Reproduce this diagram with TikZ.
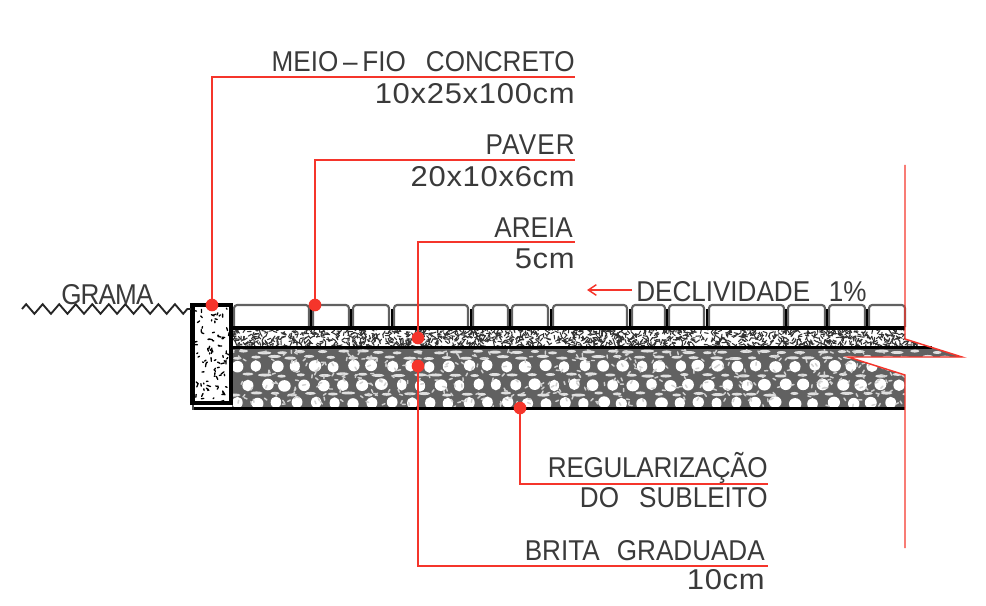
\documentclass[tikz,border=0pt]{standalone}
\usepackage{fontspec}
\setmainfont{Liberation Sans}[FakeStretch=0.91]
\newfontfamily\digitfont{Liberation Sans}[FakeStretch=1.08,LetterSpace=2.5]
\usetikzlibrary{decorations.pathmorphing,arrows.meta}
\definecolor{cadred}{HTML}{F5352B}
\definecolor{cadtext}{HTML}{3A3A3A}
\tikzset{
  cadlabel/.style={inner sep=0pt,text=cadtext,font=\fontsize{21.5pt}{24pt}\selectfont},
  rlabel/.style={cadlabel,anchor=base east},
  llabel/.style={cadlabel,anchor=base west},
  leader/.style={draw=cadred,line width=1.35pt},
  reddot/.style={circle,fill=cadred,inner sep=0pt,minimum size=9.5pt},
  paverbox/.style={draw=black!62,line width=1.6pt,rounded corners=2.4pt},
  joint/.style={draw=black,line width=1.7pt},
  layerline/.style={draw=black,line width=2.3pt},
}
\begin{document}
\begin{tikzpicture}[x=0.75pt,y=-0.75pt]
\useasboundingbox (0,0) rectangle (986,606);
\pgfmathsetseed{4217}
% ---------- gravel
\begin{scope}
\clip (232,347) -- (930,347) -- (962,357) -- (848,357) -- (905,375) -- (905,408) -- (232,408) -- cycle;
\fill[black!62] (232,347) rectangle (965,408);
\foreach \yy/\off in {352/0,357.5/9,375/0,394/9}{
  \foreach \i in {0,...,38}{
    \pgfmathsetmacro{\xx}{226+\off+\i*19.2+3*rand}
    \pgfmathsetmacro{\ww}{5.5+1.5*rand}
    \fill[white!88!black] (\xx,\yy+1.2*rand) ellipse [x radius=\ww,y radius=1.5];
  }
}
\foreach \yy/\off in {366/0,385/9.5,403/0}{
  \foreach \i in {0,...,37}{
    \pgfmathsetmacro{\xx}{238+\off+\i*19.2+1.5*rand}
    \pgfmathsetmacro{\ww}{5.6+0.8*rand}
    \fill[white] (\xx,\yy+rand) ellipse [x radius=\ww,y radius=5.8];
  }
}
\foreach \i in {0,...,420}{
  \pgfmathsetmacro{\xx}{232+680*rnd}
  \pgfmathsetmacro{\yyy}{350+56*rnd}
  \pgfmathsetmacro{\ang}{360*rnd}
  \draw[white!82!black,line width=1.1pt,line cap=round] (\xx,\yyy) -- ++(\ang:3);
}
\end{scope}
% ---------- sand
\begin{scope}
\clip (232,329) -- (905,329) -- (905,339) -- (930,347) -- (232,347) -- cycle;
\fill[white] (232,329) rectangle (935,347);
\foreach \i in {0,...,1500}{
  \pgfmathsetmacro{\xx}{232+700*rnd}
  \pgfmathsetmacro{\yyy}{329+18*rnd}
  \pgfmathsetmacro{\ang}{360*rnd}
  \draw[black!80,line width=0.8pt,line cap=round] (\xx,\yyy) -- ++(\ang:3.6);
}
\end{scope}
% ---------- pavers
\foreach \a/\b in {234/309,313/349,353/389,394/468,473/508,512/548,553/627,632/665,669/704,709/784,788/825,829/865,869/905}{
  \draw[paverbox] (\a,327) -- (\a,305) -- (\b,305) -- (\b,327);
}
\foreach \xx in {311,351,392,471,510,551,630,667,707,786,827,867}{
  \draw[joint] (\xx,309) -- (\xx,327);
}
\draw[layerline] (232,328) -- (905,328);
\draw[layerline] (232,347.5) -- (932,347.5);
\draw[layerline] (193,408.5) -- (905,408.5);
\draw[black!70,line width=0.9pt] (193,404) -- (193,410);
% ---------- curb
\fill[white] (192,305) rectangle (231,403);
\begin{scope}
\clip (192,305) rectangle (231,403);
\foreach \i in {0,...,85}{
  \pgfmathsetmacro{\xx}{195+34*rnd}
  \pgfmathsetmacro{\yyy}{308+93*rnd}
  \pgfmathsetmacro{\ang}{360*rnd}
  \pgfmathsetmacro{\lll}{0.8+3*rnd}
  \draw[black,line width=1pt,line cap=round] (\xx,\yyy) -- ++(\ang:\lll);
}
\end{scope}
\draw[black,line width=3.4pt] (192.5,305) rectangle (231,403);
% ---------- grass
\coordinate (gl) at (22,309);
\coordinate (gr) at (191,309);
\draw[black!85,line width=1.4pt,decorate,decoration={zigzag,segment length=12.4,amplitude=3.6}] (gl) -- (gr);
% ---------- section break
\coordinate (b1) at (905,165);
\coordinate (b2) at (905,339);
\coordinate (b3) at (962,357);
\coordinate (b4) at (848,357);
\coordinate (b5) at (905,375);
\coordinate (b6) at (905,548);
\draw[leader,line width=1.1pt] (b1) -- (b2) -- (b3) -- (b4) -- (b5) -- (b6);
% ---------- labels
\node[rlabel] (t1) at (575,72) {MEIO\,–\,FIO\hspace{0.7em}CONCRETO};
\node[rlabel] (t2) at (575,104) {\digitfont 10x25x100cm};
\node[rlabel] (t3) at (575,155) {\addfontfeature{LetterSpace=4}PAVER};
\node[rlabel] (t4) at (575,187) {\digitfont 20x10x6cm};
\node[rlabel] (t5) at (573,238) {AREIA};
\node[rlabel] (t6) at (575,269) {\digitfont 5cm};
\node[llabel] (t7) at (636,301) {DECLIVIDADE\hspace{0.65em}1\%};
\node[llabel] (t8) at (61,305) {\addfontfeature{LetterSpace=-3}GRAMA};
\node[rlabel] (t9) at (768,477) {\addfontfeature{LetterSpace=-1}REGULARIZAÇÃO};
\node[rlabel] (t10) at (768,507) {DO\hspace{0.7em}SUBLEITO};
\node[rlabel] (t11) at (765,560) {BRITA\hspace{0.6em}GRADUADA};
\node[rlabel] (t12) at (765,589) {\digitfont 10cm};
% ---------- leaders
\node[reddot] (d1) at (212,305) {};
\node[reddot] (d2) at (315,305) {};
\node[reddot] (d3) at (418,338) {};
\node[reddot] (d4) at (418,366) {};
\node[reddot] (d5) at (520,408) {};
\coordinate (e1) at (575,77);
\coordinate (e2) at (575,160);
\coordinate (e3) at (575,242);
\coordinate (e4) at (768,566);
\coordinate (e5) at (768,484);
\draw[leader] (d1.center) |- (e1);
\draw[leader] (d2.center) |- (e2);
\draw[leader] (d3.center) |- (e3);
\draw[leader] (d4.center) |- (e4);
\draw[leader] (d5.center) |- (e5);
\coordinate (a1) at (632,290);
\coordinate (a2) at (587,290);
\draw[leader,line width=1.1pt,-{Straight Barb[length=6pt,width=8pt]}] (a1) -- (a2);
\end{tikzpicture}
\end{document}
